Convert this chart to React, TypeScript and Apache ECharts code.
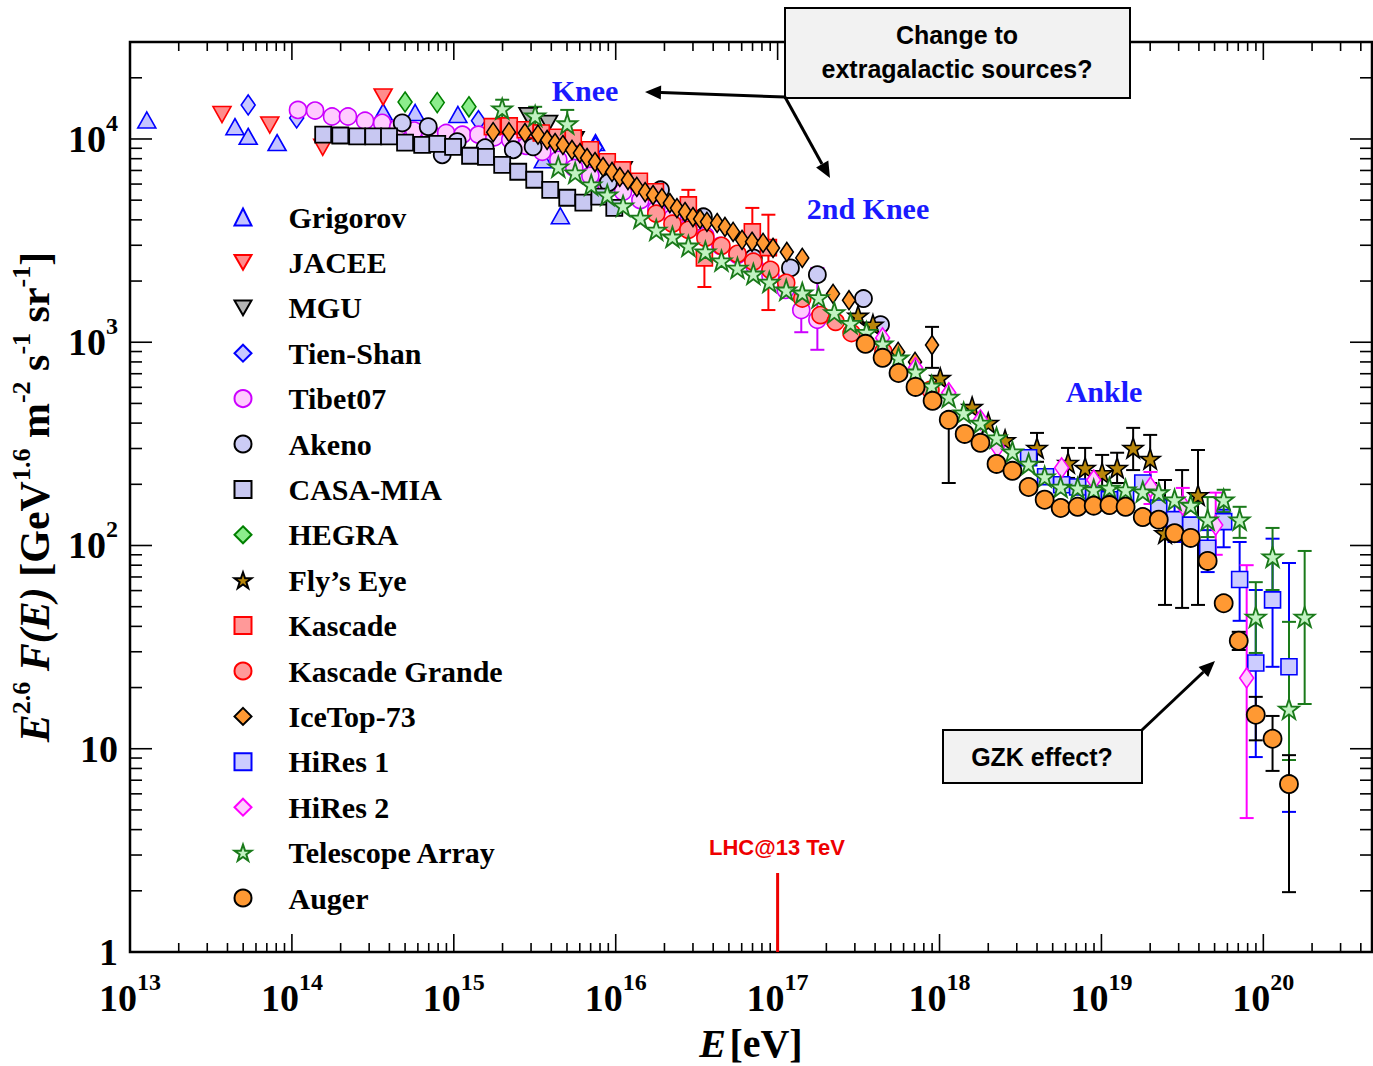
import { useEffect, useRef } from 'react';
import * as echarts from 'echarts';

const SERIF = '"Liberation Serif", "Times New Roman", serif';
const SANS = '"Liberation Sans", Arial, sans-serif';

const X_MIN = 1e13;
const X_MAX = 4.69e20;
const Y_MIN = 1;
const Y_MAX = 3.0e4;

const xDecades = [13, 14, 15, 16, 17, 18, 19, 20];
const yDecades = [0, 1, 2, 3, 4];
const minorMult = [2, 3, 4, 5, 6, 7, 8, 9];

// ---- data [E (eV), E^2.6 F(E)] ----
const grigorov = [[1.27e13, 1.24e4], [4.45e13, 1.15e4], [5.37e13, 1.03e4], [8.1e13, 9.6e3], [3.66e14, 1.36e4], [5.77e14, 1.35e4], [1.06e15, 1.32e4], [3.57e15, 7.9e3], [4.55e15, 4.19e3], [7.5e15, 9.6e3]];
const jacee = [[3.7e13, 1.32e4], [7.3e13, 1.17e4], [1.55e14, 9.1e3], [3.66e14, 1.61e4]];
const mgu = [[2.88e15, 1.3e4], [3.84e15, 1.19e4], [5.6e15, 9.9e3], [1.11e16, 7.05e3]];
const tienShan = [[5.37e13, 1.47e4], [1.07e14, 1.27e4], [1.42e15, 1.23e4], [7.5e15, 9.1e3]];
const tibet07 = [[1.09e14, 1.39e4], [1.39e14, 1.38e4], [1.77e14, 1.29e4], [2.22e14, 1.29e4], [2.83e14, 1.23e4], [3.61e14, 1.2e4], [4.53e14, 1.14e4], [5.69e14, 1.1e4], [7.14e14, 1.07e4], [8.97e14, 1.07e4], [1.13e15, 1.05e4], [1.42e15, 1.05e4], [1.78e15, 1.02e4], [2.23e15, 9.9e3], [2.8e15, 9.25e3], [3.52e15, 8.65e3], [4.42e15, 7.9e3], [5.55e15, 7.2e3], [6.97e15, 6.6e3], [8.75e15, 5.95e3], [1.11e16, 5.5e3], [1.42e16, 5.0e3], [1.78e16, 4.49e3], [2.24e16, 4.1e3], [2.81e16, 3.66e3], [3.58e16, 3.34e3], [4.43e16, 2.98e3], [5.65e16, 2.69e3], [7.19e16, 2.38e3], [9.03e16, 2.12e3], [1.12e17, 1.81e3], [1.4e17, 1.44e3], [1.76e17, 1.29e3]];
const tibet07Err = [[1.4e17, 1.12e3, 1.71e3], [1.76e17, 918, 2.32e3]];
const akeno = [[4.8e14, 1.2e4], [6.95e14, 1.15e4], [8.48e14, 8.36e3], [1.05e15, 9.7e3], [1.56e15, 9.05e3], [2.33e15, 8.85e3], [3.09e15, 9.15e3], [9.0e15, 6.09e3], [1.89e16, 5.62e3], [3.48e16, 4.14e3], [7.08e16, 2.6e3], [1.2e17, 2.32e3], [1.76e17, 2.15e3], [3.39e17, 1.64e3], [4.32e17, 1.22e3]];
const casaMia = [[1.56e14, 1.05e4], [1.99e14, 1.04e4], [2.53e14, 1.03e4], [3.18e14, 1.03e4], [3.98e14, 1.03e4], [5.0e14, 9.6e3], [6.38e14, 9.35e3], [7.9e14, 9.45e3], [9.9e14, 9.15e3], [1.26e15, 8.27e3], [1.58e15, 8.17e3], [1.99e15, 7.46e3], [2.5e15, 6.9e3], [3.14e15, 6.3e3], [3.94e15, 5.62e3], [5.02e15, 5.14e3], [6.31e15, 4.86e3], [7.93e15, 5.2e3], [9.8e15, 4.58e3]];
const hegra = [[5.0e14, 1.52e4], [7.9e14, 1.51e4], [1.24e15, 1.44e4]];
const flysEye = [[3.14e17, 1.35e3], [3.88e17, 1.22e3], [1.01e18, 667], [1.59e18, 480], [2.0e18, 401], [2.54e18, 330], [4.0e18, 302], [6.22e18, 255], [7.93e18, 241], [1.01e19, 227], [1.25e19, 241], [1.57e19, 302], [2.0e19, 267], [2.47e19, 115], [3.15e19, 133], [3.95e19, 177]];
const flysEyeErr = [[4.0e18, 258, 358], [6.22e18, 215, 302], [7.93e18, 192, 302], [1.01e19, 188, 279], [1.25e19, 203, 286], [1.57e19, 235, 379], [2.0e19, 203, 350], [2.47e19, 51, 210], [3.15e19, 49.3, 235], [3.95e19, 51, 295]];
const kascade = [[1.73e15, 1.15e4], [2.2e15, 1.16e4], [2.76e15, 1.11e4], [3.47e15, 1.07e4], [4.36e15, 1.02e4], [5.47e15, 1.01e4], [6.97e15, 8.85e3], [8.87e15, 7.73e3], [1.1e16, 7.05e3], [1.4e16, 6.2e3], [1.76e16, 5.5e3], [2.81e16, 4.74e3], [3.53e16, 2.6e3], [6.98e16, 3.49e3], [8.77e16, 2.92e3]];
const kascadeErr = [[2.81e16, 4.0e3, 5.62e3], [3.53e16, 1.87e3, 3.57e3], [6.98e16, 2.4e3, 4.58e3], [8.77e16, 1.44e3, 4.24e3]];
const kascadeGrande = [[1.78e16, 4.29e3], [2.24e16, 3.83e3], [2.81e16, 3.57e3], [3.58e16, 3.26e3], [4.5e16, 2.98e3], [5.65e16, 2.72e3], [7.08e16, 2.49e3], [9.03e16, 2.27e3], [1.13e17, 1.96e3], [1.42e17, 1.64e3], [1.84e17, 1.36e3], [2.28e17, 1.26e3], [2.86e17, 1.11e3], [4.5e17, 898], [8.8e17, 583]];
const iceTop = [[1.75e15, 1.08e4], [2.19e15, 1.08e4], [2.75e15, 1.07e4], [3.31e15, 1.05e4], [3.77e15, 9.89e3], [4.22e15, 9.55e3], [4.72e15, 9.34e3], [5.37e15, 8.83e3], [6.01e15, 8.53e3], [6.65e15, 8.06e3], [7.45e15, 7.7e3], [8.35e15, 7.28e3], [9.49e15, 6.88e3], [1.06e16, 6.5e3], [1.19e16, 6.28e3], [1.35e16, 5.81e3], [1.52e16, 5.48e3], [1.7e16, 5.3e3], [1.93e16, 5.12e3], [2.16e16, 4.84e3], [2.39e16, 4.57e3], [2.68e16, 4.37e3], [3.0e16, 4.13e3], [3.32e16, 4.04e3], [3.66e16, 3.91e3], [4.23e16, 3.86e3], [4.73e16, 3.69e3], [5.31e16, 3.49e3], [6.03e16, 3.19e3], [6.95e16, 3.12e3], [8.13e16, 3.08e3], [9.37e16, 2.91e3], [1.14e17, 2.78e3], [1.42e17, 2.6e3], [2.2e17, 1.73e3], [2.76e17, 1.61e3], [5.55e17, 896], [7.06e17, 800], [8.99e17, 969]];
const iceTopErr = [[8.99e17, 748, 1.19e3]];
const hiRes1 = [[3.55e18, 270], [4.52e18, 218], [5.68e18, 199], [7.13e18, 194], [8.96e18, 177], [1.12e19, 168], [1.41e19, 171], [1.8e19, 203], [2.26e19, 153], [2.83e19, 134], [3.56e19, 126], [4.53e19, 97], [5.69e19, 131], [7.14e19, 68], [8.98e19, 26.4], [1.14e20, 54], [1.44e20, 25.3]];
const hiRes1Err = [[2.83e19, 104, 168], [4.53e19, 74, 119], [5.69e19, 98, 150], [7.14e19, 42.6, 104], [8.98e19, 9.1, 60.4], [1.14e20, 25.3, 108], [1.44e20, 4.89, 82]];
const hiRes2 = [[4.45e17, 1.05e3], [7.11e17, 748], [1.14e18, 564], [1.79e18, 415], [2.28e18, 305], [5.68e18, 241], [8.96e18, 210], [2.01e19, 194], [3.18e19, 158], [5.08e19, 126], [7.89e19, 22.3]];
const hiRes2Err = [[2.01e19, 160, 230], [3.18e19, 119, 192], [5.08e19, 90, 182], [7.89e19, 4.56, 80]];
const telescopeArray = [[1.99e15, 1.41e4], [3.18e15, 1.3e4], [5.02e15, 1.19e4], [4.42e15, 7.3e3], [5.62e15, 6.82e3], [7.06e15, 5.95e3], [8.87e15, 5.31e3], [1.11e16, 4.69e3], [1.42e16, 4.09e3], [1.78e16, 3.57e3], [2.24e16, 3.3e3], [2.81e16, 2.98e3], [3.58e16, 2.79e3], [4.5e16, 2.52e3], [5.65e16, 2.32e3], [7.08e16, 2.17e3], [8.89e16, 1.98e3], [1.13e17, 1.81e3], [1.42e17, 1.75e3], [1.79e17, 1.66e3], [2.24e17, 1.4e3], [2.82e17, 1.24e3], [3.54e17, 1.12e3], [4.45e17, 982], [5.58e17, 838], [7.11e17, 715], [8.94e17, 610], [1.14e18, 538], [1.41e18, 450], [1.79e18, 401], [2.25e18, 339], [2.82e18, 289], [3.55e18, 252], [4.46e18, 218], [5.6e18, 194], [7.13e18, 192], [8.96e18, 188], [1.12e19, 192], [1.41e19, 188], [1.8e19, 184], [2.26e19, 182], [2.83e19, 168], [3.56e19, 158], [4.53e19, 134], [5.69e19, 168], [7.14e19, 134], [8.98e19, 44.5], [1.14e20, 88], [1.44e20, 15.7], [1.8e20, 44.5]];
const telescopeArrayErr = [[1.99e15, 1.27e4, 1.56e4], [3.18e15, 1.17e4, 1.44e4], [5.02e15, 1.05e4, 1.39e4], [4.53e19, 110, 173], [5.69e19, 146, 188], [7.14e19, 109, 155], [8.98e19, 29.6, 66], [1.14e20, 60.4, 122], [1.44e20, 8.8, 42.1], [1.8e20, 16.6, 94]];
const auger = [[3.49e17, 982], [4.45e17, 838], [5.58e17, 706], [7.11e17, 603], [9.06e17, 515], [1.14e18, 415], [1.43e18, 354], [1.79e18, 320], [2.25e18, 252], [2.82e18, 233], [3.55e18, 194], [4.46e18, 168], [5.6e18, 153], [7.13e18, 155], [8.96e18, 157], [1.12e19, 158], [1.41e19, 155], [1.8e19, 138], [2.26e19, 134], [2.83e19, 115], [3.56e19, 109], [4.53e19, 84], [5.69e19, 52], [7.05e19, 34], [8.98e19, 14.7], [1.14e20, 11.2], [1.44e20, 6.7]];
const augerErr = [[1.14e18, 203, 415], [7.05e19, 30.6, 37.6], [8.98e19, 11.0, 18], [1.14e20, 7.78, 14.5], [1.44e20, 1.97, 9.3]];
const lhcEnergy = [1e17];

const STAR = 'path://M50,2 L61.8,36.2 L97.6,36.2 L68.6,57.3 L79.4,91.5 L50,70.6 L20.6,91.5 L31.4,57.3 L2.4,36.2 L38.2,36.2 Z';
const DOWN_TRI = 'path://M0,0 L20,0 L10,17.3 Z';

type Def = {
  name: string; data: number[][]; symbol: string; size: any;
  fill: string; stroke: string; bw: number; err?: number[][]; errColor?: string;
};

const defs: Def[] = [
  { name: 'Grigorov', data: grigorov, symbol: 'triangle', size: [18, 16], fill: '#c4c4ff', stroke: '#0000ff', bw: 1.6 },
  { name: 'JACEE', data: jacee, symbol: DOWN_TRI, size: [18, 16], fill: '#ff8c8c', stroke: '#ff0000', bw: 1.6 },
  { name: 'MGU', data: mgu, symbol: DOWN_TRI, size: [18, 16], fill: '#b4b4b4', stroke: '#000000', bw: 1.8 },
  { name: 'Tien-Shan', data: tienShan, symbol: 'diamond', size: [14, 20], fill: '#c8c8ff', stroke: '#0000ff', bw: 1.6 },
  { name: 'Tibet07', data: tibet07, symbol: 'circle', size: 17, fill: '#ffccff', stroke: '#cc00ff', bw: 1.6, err: tibet07Err, errColor: '#cc00ff' },
  { name: 'Akeno', data: akeno, symbol: 'circle', size: 17, fill: '#ccccf5', stroke: '#000000', bw: 1.8 },
  { name: 'CASA-MIA', data: casaMia, symbol: 'rect', size: 16, fill: '#c8c8f2', stroke: '#000000', bw: 1.8 },
  { name: 'HEGRA', data: hegra, symbol: 'diamond', size: [14, 20], fill: '#8ced8c', stroke: '#008000', bw: 1.6 },
  { name: 'Fly’s Eye', data: flysEye, symbol: STAR, size: 20, fill: '#b8860b', stroke: '#000000', bw: 1.6, err: flysEyeErr, errColor: '#000000' },
  { name: 'Kascade', data: kascade, symbol: 'rect', size: 16, fill: '#ff9999', stroke: '#ff0000', bw: 1.6, err: kascadeErr, errColor: '#ff0000' },
  { name: 'Kascade Grande', data: kascadeGrande, symbol: 'circle', size: 17, fill: '#ff9999', stroke: '#ff0000', bw: 1.6 },
  { name: 'IceTop-73', data: iceTop, symbol: 'diamond', size: [13, 19], fill: '#ff9933', stroke: '#000000', bw: 1.6, err: iceTopErr, errColor: '#000000' },
  { name: 'HiRes 1', data: hiRes1, symbol: 'rect', size: 16, fill: '#ccccff', stroke: '#0000ff', bw: 1.6, err: hiRes1Err, errColor: '#0000ff' },
  { name: 'HiRes 2', data: hiRes2, symbol: 'diamond', size: [14, 20], fill: '#ffccff', stroke: '#ff00ff', bw: 1.6, err: hiRes2Err, errColor: '#ff00ff' },
  { name: 'Telescope Array', data: telescopeArray, symbol: STAR, size: 20, fill: '#c2f2c2', stroke: '#1a7a1a', bw: 1.8, err: telescopeArrayErr, errColor: '#1a7a1a' },
  { name: 'Auger', data: auger, symbol: 'circle', size: 18, fill: '#ff9933', stroke: '#000000', bw: 1.8, err: augerErr, errColor: '#000000' },
];

const xTickData: number[][] = [];
xDecades.forEach((d) => {
  const base = Math.pow(10, d);
  xTickData.push([base, 1, 1]);
  minorMult.forEach((m) => { if (m * base <= X_MAX) xTickData.push([m * base, 1, 0]); });
});
const yTickData: number[][] = [];
yDecades.forEach((d) => {
  const base = Math.pow(10, d);
  yTickData.push([X_MIN, base, 1]);
  minorMult.forEach((m) => { if (m * base <= Y_MAX * 1.0001) yTickData.push([X_MIN, m * base, 0]); });
});

const errRender = (color: string) => (params: any, api: any) => {
  const x = api.value(0);
  const a = api.coord([x, api.value(1)]);
  const b = api.coord([x, api.value(2)]);
  const w = 7;
  const st = { stroke: color, lineWidth: 2 };
  return {
    type: 'group',
    children: [
      { type: 'line', shape: { x1: a[0], y1: a[1], x2: b[0], y2: b[1] }, style: st },
      { type: 'line', shape: { x1: a[0] - w, y1: a[1], x2: a[0] + w, y2: a[1] }, style: st },
      { type: 'line', shape: { x1: b[0] - w, y1: b[1], x2: b[0] + w, y2: b[1] }, style: st },
    ],
  };
};

const supRich = {
  b: { fontFamily: SERIF, fontWeight: 'bold', fontSize: 38, color: '#000', lineHeight: 56 },
  s: { fontFamily: SERIF, fontWeight: 'bold', fontSize: 24, color: '#000', lineHeight: 22, verticalAlign: 'top' },
};

function xLabel(v: number) {
  const e = Math.log10(v);
  const r = Math.round(e);
  if (Math.abs(e - r) > 1e-6) return '';
  return `{b|10}{s|${r}}`;
}
function yLabel(v: number) {
  const e = Math.log10(v);
  const r = Math.round(e);
  if (Math.abs(e - r) > 1e-6) return '';
  if (r === 0) return '{b|1}';
  if (r === 1) return '{b|10}';
  return `{b|10}{s|${r}}`;
}

export default function App() {
  const ref = useRef<HTMLDivElement>(null);
  useEffect(() => {
    if (!ref.current) return;
    const chart = echarts.init(ref.current, null, { renderer: 'svg' });
    const series: any[] = [];
    defs.forEach((d) => {
      if (d.err) {
        series.push({
          type: 'custom', name: 'err ' + d.name, data: d.err, renderItem: errRender(d.errColor as string),
          encode: { x: 0, y: [1, 2] }, clip: false, silent: true,
        });
      }
      series.push({
        type: 'scatter', name: d.name, data: d.data, symbol: d.symbol, symbolSize: d.size,
        itemStyle: { color: d.fill, borderColor: d.stroke, borderWidth: d.bw, opacity: 1 },
        emphasis: { disabled: true }, silent: true,
      });
    });
    series.push({
      type: 'custom', name: 'xticks', data: xTickData, encode: { x: 0, y: 1 }, clip: false, silent: true, z: 10,
      renderItem: (params: any, api: any) => {
        const p = api.coord([api.value(0), api.value(1)]);
        const cs = params.coordSys;
        const len = api.value(2) ? 18 : 9;
        const st = { stroke: '#000', lineWidth: 1.6 };
        return {
          type: 'group', children: [
            { type: 'line', shape: { x1: p[0], y1: cs.y + cs.height, x2: p[0], y2: cs.y + cs.height - len }, style: st },
            { type: 'line', shape: { x1: p[0], y1: cs.y, x2: p[0], y2: cs.y + len }, style: st },
          ],
        };
      },
    });
    series.push({
      type: 'custom', name: 'yticks', data: yTickData, encode: { x: 0, y: 1 }, clip: false, silent: true, z: 10,
      renderItem: (params: any, api: any) => {
        const p = api.coord([api.value(0), api.value(1)]);
        const cs = params.coordSys;
        const len = api.value(2) ? 22 : 12;
        const st = { stroke: '#000', lineWidth: 1.6 };
        return {
          type: 'group', children: [
            { type: 'line', shape: { x1: cs.x, y1: p[1], x2: cs.x + len, y2: p[1] }, style: st },
            { type: 'line', shape: { x1: cs.x + cs.width, y1: p[1], x2: cs.x + cs.width - len, y2: p[1] }, style: st },
          ],
        };
      },
    });
    series.push({
      type: 'custom', name: 'lhc', data: lhcEnergy.map((e) => [e, Y_MIN]), encode: { x: 0, y: 1 }, clip: false, silent: true, z: 11,
      renderItem: (params: any, api: any) => {
        const p = api.coord([api.value(0), api.value(1)]);
        return { type: 'line', shape: { x1: p[0], y1: p[1], x2: p[0], y2: p[1] - 79 }, style: { stroke: '#ee0000', lineWidth: 3 } };
      },
    });

    const blue = '#1a1aff';
    const arrowLine = (x1: number, y1: number, x2: number, y2: number) => ({
      type: 'line', z: 100, shape: { x1, y1, x2, y2 }, style: { stroke: '#000', lineWidth: 3 },
    });
    const head = (pts: number[][]) => ({ type: 'polygon', z: 100, shape: { points: pts }, style: { fill: '#000' } });

    chart.setOption({
      animation: false,
      backgroundColor: '#ffffff',
      grid: {
        left: 130, right: 1, top: 42, bottom: 114, show: true, borderColor: '#000', borderWidth: 2.5,
        backgroundColor: 'transparent', containLabel: false, outerBoundsMode: 'none',
      },
      xAxis: {
        type: 'log', logBase: 10, min: X_MIN, max: X_MAX,
        axisLine: { show: false }, axisTick: { show: false }, splitLine: { show: false }, minorTick: { show: false },
        axisLabel: { formatter: xLabel, rich: supRich, margin: 18, showMaxLabel: false, hideOverlap: false },
        name: '{i|E} {n|[eV]}', nameLocation: 'middle', nameGap: 70,
        nameTextStyle: {
          rich: {
            i: { fontFamily: SERIF, fontWeight: 'bold', fontStyle: 'italic', fontSize: 40, color: '#000', lineHeight: 42 },
            n: { fontFamily: SERIF, fontWeight: 'bold', fontSize: 40, color: '#000', lineHeight: 42 },
          },
        },
      },
      yAxis: {
        type: 'log', logBase: 10, min: Y_MIN, max: Y_MAX,
        axisLine: { show: false }, axisTick: { show: false }, splitLine: { show: false }, minorTick: { show: false },
        axisLabel: { formatter: yLabel, rich: supRich, margin: 12, showMaxLabel: false, hideOverlap: false },
        name: '{i|E}{s|2.6}{i| F(E)}{n| [GeV}{s|1.6}{n| m}{s|-2}{n| s}{s|-1}{n| sr}{s|-1}{n|]}',
        nameLocation: 'middle', nameRotate: 90, nameGap: 68,
        nameTextStyle: {
          rich: {
            i: { fontFamily: SERIF, fontWeight: 'bold', fontStyle: 'italic', fontSize: 42, color: '#000', lineHeight: 54 },
            n: { fontFamily: SERIF, fontWeight: 'bold', fontSize: 42, color: '#000', lineHeight: 54 },
            s: { fontFamily: SERIF, fontWeight: 'bold', fontSize: 26, color: '#000', lineHeight: 26, verticalAlign: 'top' },
          },
        },
      },
      legend: {
        orient: 'vertical', left: 233.5, top: 202, padding: 0,
        itemWidth: 17, itemHeight: 17, itemGap: 15.4, selectedMode: false,
        data: defs.map((d) => d.name),
        textStyle: { fontFamily: SERIF, fontWeight: 'bold', fontSize: 30, color: '#000', lineHeight: 30, padding: [0, 0, 0, 32] },
      },
      graphic: [
        { type: 'text', z: 100, x: 585, y: 90, style: { text: 'Knee', fontFamily: SERIF, fontWeight: 'bold', fontSize: 30, fill: blue, align: 'center', verticalAlign: 'middle' } },
        { type: 'text', z: 100, x: 868, y: 208, style: { text: '2nd Knee', fontFamily: SERIF, fontWeight: 'bold', fontSize: 30, fill: blue, align: 'center', verticalAlign: 'middle' } },
        { type: 'text', z: 100, x: 1104, y: 391, style: { text: 'Ankle', fontFamily: SERIF, fontWeight: 'bold', fontSize: 30, fill: blue, align: 'center', verticalAlign: 'middle' } },
        { type: 'rect', z: 100, shape: { x: 785, y: 8, width: 345, height: 90 }, style: { fill: '#f2f2f2', stroke: '#000', lineWidth: 2 } },
        { type: 'text', z: 101, x: 957, y: 35, style: { text: 'Change to', fontFamily: SANS, fontWeight: 'bold', fontSize: 25, fill: '#000', align: 'center', verticalAlign: 'middle' } },
        { type: 'text', z: 101, x: 957, y: 69, style: { text: 'extragalactic sources?', fontFamily: SANS, fontWeight: 'bold', fontSize: 25, fill: '#000', align: 'center', verticalAlign: 'middle' } },
        arrowLine(785, 97, 661, 92.6),
        head([[645, 92], [661.2, 85.6], [660.8, 99.6]]),
        arrowLine(785, 97, 822, 164),
        head([[830, 178], [828.3, 160.6], [816.1, 167.4]]),
        { type: 'rect', z: 100, shape: { x: 943, y: 730, width: 199, height: 53 }, style: { fill: '#f2f2f2', stroke: '#000', lineWidth: 2 } },
        { type: 'text', z: 101, x: 1042, y: 757, style: { text: 'GZK effect?', fontFamily: SANS, fontWeight: 'bold', fontSize: 25, fill: '#000', align: 'center', verticalAlign: 'middle' } },
        arrowLine(1142, 730, 1203.4, 672),
        head([[1215, 661], [1208.2, 677.1], [1198.6, 666.9]]),
        { type: 'text', z: 100, x: 777, y: 847, style: { text: 'LHC@13 TeV', fontFamily: SANS, fontWeight: 'bold', fontSize: 22, fill: '#ee0000', align: 'center', verticalAlign: 'middle' } },
      ],
      series,
    });
    return () => chart.dispose();
  }, []);
  return <div ref={ref} style={{ position: 'fixed', left: 0, top: 0, width: 1373, height: 1066, background: '#fff' }} />;
}
